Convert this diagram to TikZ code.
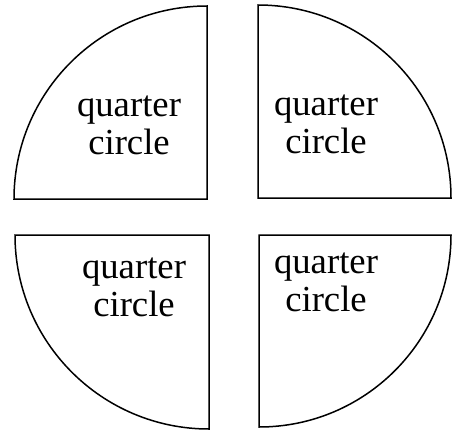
\documentclass[tikz,border=0pt]{standalone}
\usepackage{fontspec}
\setmainfont{Liberation Serif}
\usepackage{tikz}

\begin{document}
\begin{tikzpicture}[
    x=1pt, y=1pt,
    every node/.style={align=center},
    piece/.style={
        draw=black,
        line width=1.5pt,
        line join=miter
    },
    qtext/.style={
        font=\fontsize{36.7}{38}\selectfont,
        inner sep=0pt
    }
]
\useasboundingbox (0,0) rectangle (457,432);

\coordinate (ctl) at (207,233);
\coordinate (ctr) at (258,234);
\coordinate (cbl) at (209,197);
\coordinate (cbr) at (259,197);

\draw[piece] (ctl) -- ++(0,193) arc[start angle=90, end angle=180, radius=193] -- cycle;
\draw[piece] (ctr) -- ++(193,0) arc[start angle=0, end angle=90, radius=193] -- cycle;
\draw[piece] (cbl) -- ++(-194,0) arc[start angle=180, end angle=270, radius=194] -- cycle;
\draw[piece] (cbr) -- ++(0,-192) arc[start angle=270, end angle=360, radius=192] -- cycle;

\node[qtext] (qtl) at (129,306.5) {quarter\\circle};
\node[qtext] (qtr) at (326,307.5) {quarter\\circle};
\node[qtext] (qbl) at (134,144.5) {quarter\\circle};
\node[qtext] (qbr) at (326,150) {quarter\\circle};
\end{tikzpicture}
\end{document}
